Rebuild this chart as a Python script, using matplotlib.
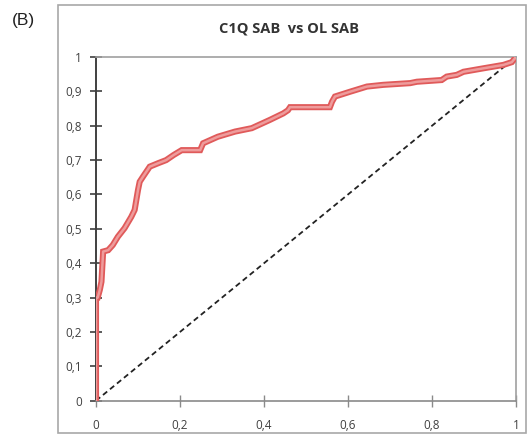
import numpy as np
import matplotlib
matplotlib.use('Agg')
import matplotlib.pyplot as plt
from matplotlib.patches import Rectangle

# ROC curve (false positive rate, true positive rate)
fpr = [0.0, 0.0, 0.004, 0.009, 0.013, 0.017, 0.029, 0.040, 0.052, 0.068,
       0.084, 0.092, 0.100, 0.104, 0.112, 0.128, 0.148, 0.167, 0.185, 0.204,
       0.248, 0.255, 0.290, 0.331, 0.371, 0.414, 0.446, 0.457, 0.462, 0.557,
       0.562, 0.569, 0.605, 0.645, 0.684, 0.748, 0.764, 0.823, 0.835, 0.859,
       0.875, 0.922, 0.970, 0.990, 1.0]
tpr = [0.0, 0.300, 0.300, 0.322, 0.346, 0.434, 0.438, 0.453, 0.477, 0.502,
       0.535, 0.555, 0.613, 0.637, 0.652, 0.681, 0.691, 0.700, 0.715, 0.729,
       0.729, 0.749, 0.768, 0.783, 0.793, 0.817, 0.836, 0.845, 0.854, 0.854,
       0.870, 0.885, 0.899, 0.914, 0.919, 0.924, 0.928, 0.933, 0.943, 0.948,
       0.957, 0.967, 0.977, 0.985, 1.0]

x_ticks = [0, 0.2, 0.4, 0.6, 0.8, 1]
y_ticks = [0, 0.1, 0.2, 0.3, 0.4, 0.5, 0.6, 0.7, 0.8, 0.9, 1]
title = "C1Q SAB  vs OL SAB"
panel = "(B)"

plt.rcParams['font.family'] = ['Open Sans', 'DejaVu Sans']

W, H = 527, 436
fig = plt.figure(figsize=(W / 100, H / 100), dpi=100)
fig.patch.set_facecolor('white')

# outer chart frame (Excel style)
fig.patches.append(Rectangle((58 / W, 1 - 433 / H), (526 - 58) / W, (433 - 5) / H,
                             transform=fig.transFigure, fill=False,
                             edgecolor='#a8a8a8', linewidth=1.2))

ax = fig.add_axes([96 / W, 1 - 400.7 / H, 420 / W, (400.7 - 57) / H])

# diagonal reference line
ax.plot([0, 1], [0, 1], color='#222222', linestyle=(0, (3, 2)), linewidth=1.3, zorder=3)

# ROC curve: dense hollow square markers look like a thick band
ax.plot(fpr, tpr, color='#e05a5a', linewidth=4.4, solid_joinstyle='miter', zorder=4)
ax.plot(fpr, tpr, color='#ee9c9c', linewidth=1.8, zorder=5)

ax.set_xlim(0, 1)
ax.set_ylim(0, 1)
ax.set_xticks(x_ticks)
ax.set_yticks(y_ticks)


def comma(v):
    s = ('%g' % v)
    return s.replace('.', ',')


ax.set_xticklabels([comma(v) for v in x_ticks])
ax.set_yticklabels([comma(v) for v in y_ticks])

for side in ['top', 'right']:
    ax.spines[side].set_color('#a0a0a0')
    ax.spines[side].set_linewidth(1.2)
ax.spines['left'].set_color('#404040')
ax.spines['left'].set_linewidth(1.4)
ax.spines['bottom'].set_color('#8a8a8a')
ax.spines['bottom'].set_linewidth(1.2)

ax.tick_params(axis='y', direction='inout', length=8, width=1.2, color='#404040',
               labelsize=8.5, labelcolor='#404040', pad=6)
ax.tick_params(axis='x', direction='inout', length=8, width=1.0, color='#8a8a8a',
               labelsize=8.5, labelcolor='#404040', pad=9)

fig.text(289 / W, 1 - 28 / H, title, ha='center', va='center',
         fontsize=10.5, fontweight='bold', color='#333333')
fig.text(12 / W, 1 - 20 / H, panel, ha='left', va='center',
         fontsize=12.5, color='#222222', family=['Liberation Sans', 'DejaVu Sans'])

fig.savefig('out.png', dpi=100, facecolor='white')
